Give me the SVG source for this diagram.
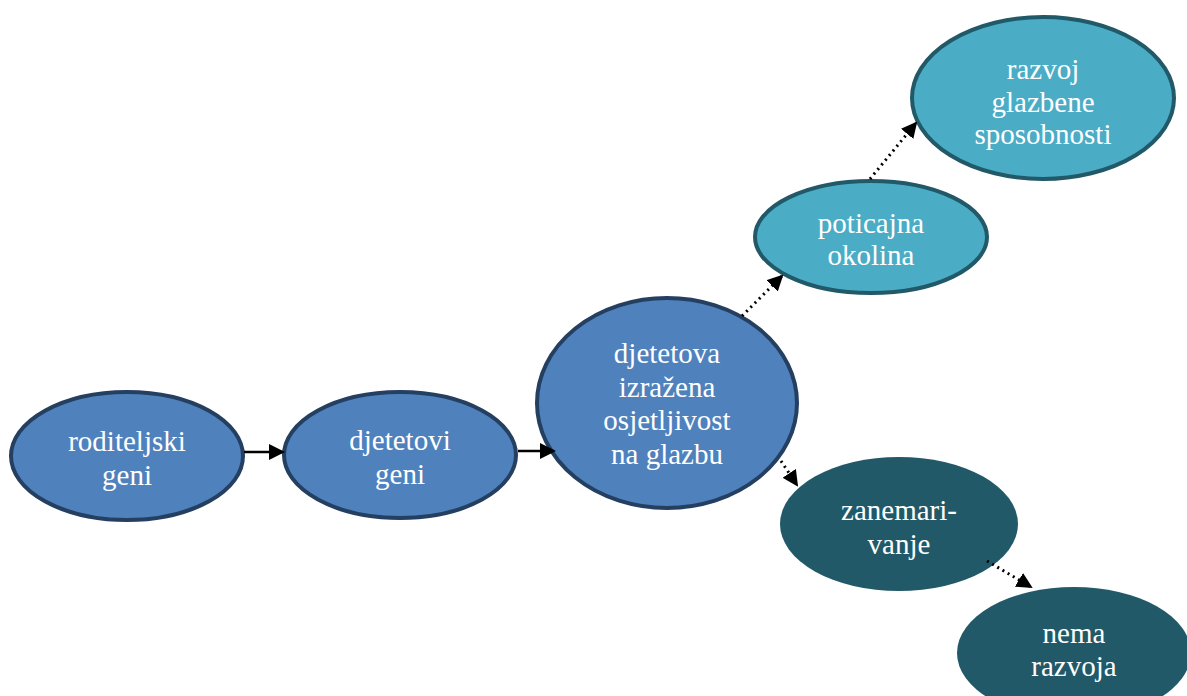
<svg xmlns="http://www.w3.org/2000/svg" width="1187" height="696" viewBox="0 0 1187 696">
<defs>
<style>
.b{fill:#4f81bd;stroke:#243f60;stroke-width:4}
.t{fill:#4bacc6;stroke:#215968;stroke-width:4}
.d{fill:#215968}
text{font-family:"Liberation Serif","Times New Roman",serif;font-size:29px;fill:#ffffff;text-anchor:middle}
.s{stroke:#000;stroke-width:2.5;fill:none}
.p{stroke:#000;stroke-width:3;fill:none;stroke-dasharray:2 4}
</style>
<marker id="ah2" markerWidth="16" markerHeight="16" refX="14" refY="8" orient="auto" markerUnits="userSpaceOnUse" viewBox="0 0 16 16">
<path d="M0,0 L16,8 L0,16 z" fill="#000"/>
</marker>
</defs>
<rect width="1187" height="696" fill="#fff"/>
<g id="n1"><ellipse class="b" cx="127" cy="456" rx="116" ry="64"/><text x="127" y="451">roditeljski</text><text x="127" y="485">geni</text></g>
<g id="n2"><ellipse class="b" cx="400" cy="455" rx="116" ry="63"/><text x="400" y="450">djetetovi</text><text x="400" y="484">geni</text></g>
<g id="n3"><ellipse class="b" cx="667" cy="403" rx="130" ry="105"/><text x="667" y="363">djetetova</text><text x="667" y="397">izražena</text><text x="667" y="430">osjetljivost</text><text x="667" y="464">na glazbu</text></g>
<g id="n4"><ellipse class="t" cx="871" cy="237" rx="116" ry="56"/><text x="871" y="233">poticajna</text><text x="871" y="265">okolina</text></g>
<g id="n5"><ellipse class="t" cx="1043" cy="98" rx="131" ry="81"/><text x="1043" y="79">razvoj</text><text x="1043" y="112">glazbene</text><text x="1043" y="144">sposobnosti</text></g>
<g id="n6"><ellipse class="d" cx="899" cy="524" rx="119" ry="67"/><text x="899" y="520">zanemari-</text><text x="899" y="554">vanje</text></g>
<g id="n7"><ellipse class="d" cx="1074" cy="653" rx="117" ry="66"/><text x="1074" y="643">nema</text><text x="1074" y="676">razvoja</text></g>
<g id="connectors">
<line class="s" x1="244" y1="452" x2="283" y2="452" marker-end="url(#ah2)"/>
<line class="s" x1="518" y1="451" x2="554" y2="451" marker-end="url(#ah2)"/>
<line class="p" x1="742" y1="316" x2="782" y2="276" marker-end="url(#ah2)"/>
<line class="p" x1="870" y1="179" x2="916" y2="123" marker-end="url(#ah2)"/>
<line class="p" x1="781" y1="461" x2="797" y2="485" marker-end="url(#ah2)"/>
<line class="p" x1="987" y1="561" x2="1031" y2="587" marker-end="url(#ah2)"/>
</g>
</svg>
